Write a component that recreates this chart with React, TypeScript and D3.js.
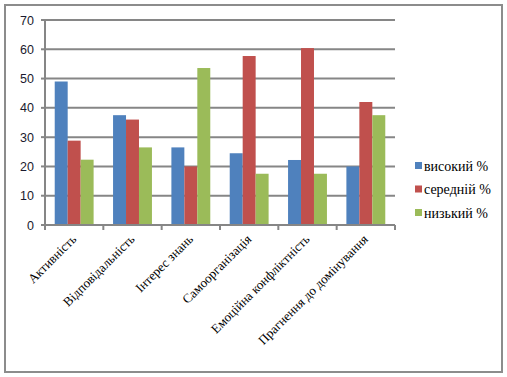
import React from "react";
import * as d3 from "d3";

const categories = [
  "Активність",
  "Відповідальність",
  "Інтерес знань",
  "Самоорганізація",
  "Емоційна конфліктність",
  "Прагнення до домінування",
];
const seriesNames = ["високий %", "середній %", "низький %"];
const high = [49, 37.5, 26.5, 24.5, 22.2, 20];
const mid = [28.8, 36, 20, 57.7, 60.4, 42];
const low = [22.3, 26.5, 53.6, 17.5, 17.5, 37.5];
const yTicks = [0, 10, 20, 30, 40, 50, 60, 70];
const colors = ["#4F81BD", "#C0504D", "#9BBB59"];

const serif = "'Liberation Serif', 'Times New Roman', serif";
const sans = "'Liberation Sans', Arial, sans-serif";

export default function App() {
  const W = 507, H = 377;
  const left = 45, right = 395, top = 20, bottom = 225;
  const x = d3.scaleBand<string>().domain(categories).range([left, right]).paddingInner(0).paddingOuter(0);
  const inner = d3.scaleBand<number>().domain([0, 1, 2]).range([0, x.bandwidth()]).paddingOuter(0.75).paddingInner(0);
  const y = d3.scaleLinear().domain([0, 70]).range([bottom, top]);
  const series = [high, mid, low];
  const grid = "#868686";
  return (
    <svg width={W} height={H} style={{ position: "absolute", left: 0, top: 0 }}>
      <rect x={0} y={0} width={W} height={H} fill="#fff" />
      <rect x={5} y={5} width={497} height={367} fill="none" stroke="#8c8c8c" strokeWidth={2} />
      {yTicks.map((t) => (
        <g key={t}>
          {t > 0 && <line x1={left} x2={right} y1={y(t)} y2={y(t)} stroke={grid} strokeWidth={2} />}
          <line x1={left - 4} x2={left} y1={y(t)} y2={y(t)} stroke={grid} strokeWidth={2} />
          <text x={left - 11} y={y(t) + 4.5} textAnchor="end" fontFamily={sans} fontSize={12.5} fill="#1a1a2e">{t}</text>
        </g>
      ))}
      {series.map((vals, si) =>
        vals.map((v, ci) => (
          <rect key={`${si}-${ci}`} x={(x(categories[ci]) as number) + (inner(si) as number)} y={y(v)} width={inner.bandwidth()} height={y(0) - y(v)} fill={colors[si]} />
        ))
      )}
      <line x1={left} x2={left} y1={top} y2={bottom + 4} stroke={grid} strokeWidth={2} />
      <line x1={left - 4} x2={right} y1={bottom} y2={bottom} stroke={grid} strokeWidth={2} />
      {categories.map((c, i) => (
        <line key={"t" + i} x1={x(c) as number} x2={x(c) as number} y1={bottom} y2={bottom + 5} stroke={grid} strokeWidth={2} />
      ))}
      <line x1={right} x2={right} y1={bottom} y2={bottom + 5} stroke={grid} strokeWidth={2} />
      {categories.map((c) => {
        const cx = (x(c) as number) + x.bandwidth() / 2;
        return (
          <text key={c} transform={`translate(${cx + 3},${bottom + 15}) rotate(-45)`} textAnchor="end" fontFamily={serif} fontSize={13} fill="#000">{c}</text>
        );
      })}
      {seriesNames.map((n, i) => (
        <g key={n} transform={`translate(415,${162 + i * 23.5})`}>
          <rect x={0} y={0} width={7} height={7} fill={colors[i]} />
          <text x={9} y={8.5} fontFamily={serif} fontSize={14} fill="#000">{n}</text>
        </g>
      ))}
    </svg>
  );
}
